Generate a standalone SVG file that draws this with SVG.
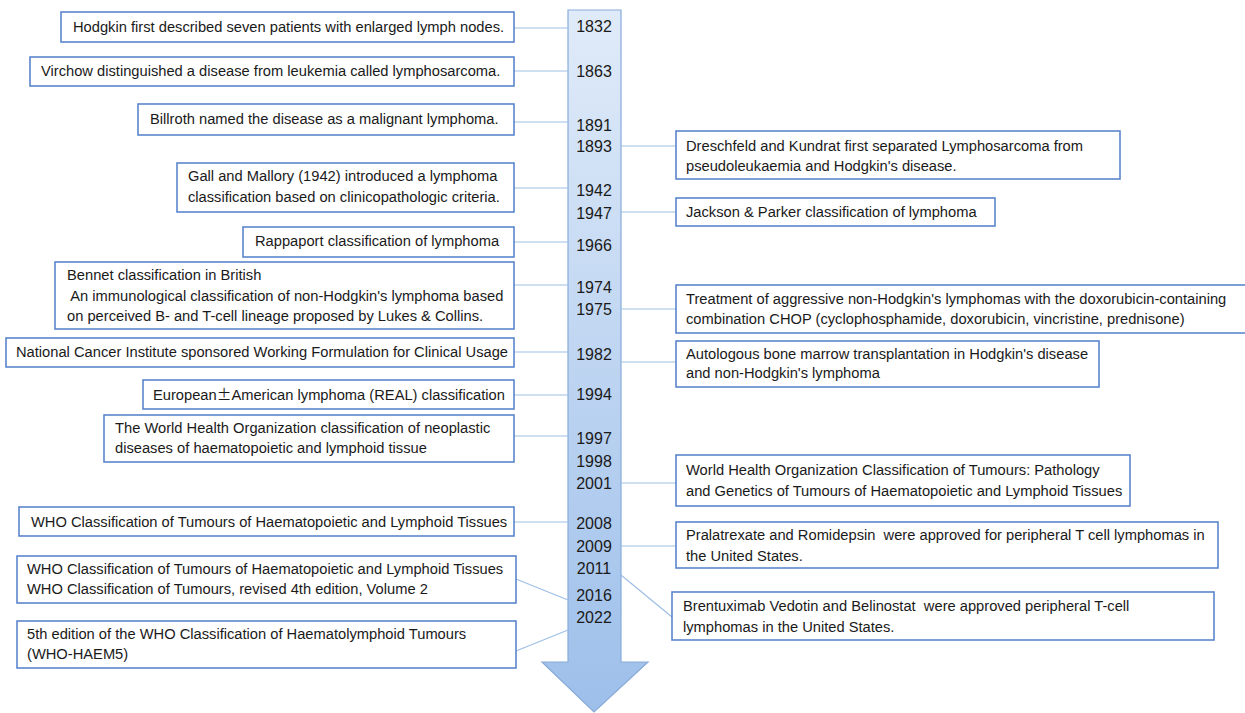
<svg xmlns="http://www.w3.org/2000/svg" width="1245" height="713" viewBox="0 0 1245 713">
<defs>
<linearGradient id="ag" x1="0" y1="0" x2="0" y2="1">
<stop offset="0" stop-color="#e0ebf9"/>
<stop offset="1" stop-color="#9dbfea"/>
</linearGradient>
</defs>
<style>
.box{fill:#fff;stroke:#5b86cc;stroke-width:1.6}
.t{font-family:"Liberation Sans",Arial,sans-serif;font-size:14.7px;fill:#1a1a1a}
.yr{font-family:"Liberation Sans",Arial,sans-serif;font-size:16px;fill:#1a1a1a;text-anchor:middle}
.c{stroke:#9dbfe6;stroke-width:1.2;fill:none}
</style>
<rect width="1245" height="713" fill="#fff"/>
<g id="timeline">
<path d="M568,10 L621,10 L621,662 L648,662 L594,712 L542,662 L568,662 Z" fill="url(#ag)" stroke="#88abd9" stroke-width="1.2"/>
<text class="yr" x="594" y="32">1832</text>
<text class="yr" x="594" y="77">1863</text>
<text class="yr" x="594" y="131">1891</text>
<text class="yr" x="594" y="152">1893</text>
<text class="yr" x="594" y="196">1942</text>
<text class="yr" x="594" y="219">1947</text>
<text class="yr" x="594" y="251">1966</text>
<text class="yr" x="594" y="293">1974</text>
<text class="yr" x="594" y="315">1975</text>
<text class="yr" x="594" y="360">1982</text>
<text class="yr" x="594" y="400">1994</text>
<text class="yr" x="594" y="444">1997</text>
<text class="yr" x="594" y="467">1998</text>
<text class="yr" x="594" y="489">2001</text>
<text class="yr" x="594" y="529">2008</text>
<text class="yr" x="594" y="552">2009</text>
<text class="yr" x="594" y="574">2011</text>
<text class="yr" x="594" y="601">2016</text>
<text class="yr" x="594" y="623">2022</text>
</g>
<g id="connectors">
<line class="c" x1="514" y1="28" x2="568" y2="28"/>
<line class="c" x1="514" y1="71" x2="568" y2="71"/>
<line class="c" x1="514" y1="122" x2="568" y2="122"/>
<line class="c" x1="514" y1="188" x2="568" y2="188"/>
<line class="c" x1="514" y1="242" x2="568" y2="242"/>
<line class="c" x1="514" y1="285" x2="568" y2="285"/>
<line class="c" x1="514" y1="352" x2="568" y2="352"/>
<line class="c" x1="514" y1="395" x2="568" y2="395"/>
<line class="c" x1="514" y1="436" x2="568" y2="436"/>
<line class="c" x1="514" y1="522" x2="568" y2="522"/>
<line class="c" x1="516" y1="579" x2="568" y2="600"/>
<line class="c" x1="516" y1="651" x2="568" y2="630"/>
<line class="c" x1="621" y1="146" x2="676" y2="146"/>
<line class="c" x1="621" y1="212" x2="676" y2="212"/>
<line class="c" x1="621" y1="309" x2="676" y2="309"/>
<line class="c" x1="621" y1="362" x2="676" y2="362"/>
<line class="c" x1="621" y1="483" x2="676" y2="483"/>
<line class="c" x1="621" y1="546" x2="676" y2="546"/>
<line class="c" x1="621" y1="575" x2="672" y2="617"/>
</g>
<g id="n1832"><rect class="box" x="61" y="12" width="453" height="30"/><text class="t" x="73" y="32">Hodgkin first described seven patients with enlarged lymph nodes.</text></g>
<g id="n1863"><rect class="box" x="30" y="57" width="484" height="29"/><text class="t" x="41" y="76">Virchow distinguished a disease from leukemia called lymphosarcoma.</text></g>
<g id="n1891"><rect class="box" x="138" y="104" width="376" height="31"/><text class="t" x="150" y="124">Billroth named the disease as a malignant lymphoma.</text></g>
<g id="n1942"><rect class="box" x="177" y="163" width="337" height="49"/><text class="t" x="188" y="181">Gall and Mallory (1942) introduced a lymphoma</text><text class="t" x="188" y="202">classification based on clinicopathologic criteria.</text></g>
<g id="n1966"><rect class="box" x="243" y="227" width="271" height="30"/><text class="t" x="255" y="246">Rappaport classification of lymphoma</text></g>
<g id="n1974"><rect class="box" x="55" y="262" width="459" height="67"/><text class="t" x="67" y="280">Bennet classification in British</text><text class="t" x="67" y="301" xml:space="preserve"> An immunological classification of non-Hodgkin's lymphoma based</text><text class="t" x="67" y="321">on perceived B- and T-cell lineage proposed by Lukes &amp; Collins.</text></g>
<g id="n1982"><rect class="box" x="6" y="338" width="508" height="29"/><text class="t" x="16" y="357">National Cancer Institute sponsored Working Formulation for Clinical Usage</text></g>
<g id="n1994"><rect class="box" x="143" y="380" width="371" height="29"/><text class="t" x="153" y="400">European<tspan font-family="'Noto Sans CJK SC',sans-serif">±</tspan>American lymphoma (REAL) classification</text></g>
<g id="n1997"><rect class="box" x="104" y="415" width="410" height="47"/><text class="t" x="115" y="433">The World Health Organization classification of neoplastic</text><text class="t" x="115" y="453">diseases of haematopoietic and lymphoid tissue</text></g>
<g id="n2008"><rect class="box" x="19" y="507" width="495" height="29"/><text class="t" x="31" y="527">WHO Classification of Tumours of Haematopoietic and Lymphoid Tissues</text></g>
<g id="n2016"><rect class="box" x="17" y="556" width="499" height="47"/><text class="t" x="27" y="574">WHO Classification of Tumours of Haematopoietic and Lymphoid Tissues</text><text class="t" x="27" y="594">WHO Classification of Tumours, revised 4th edition, Volume 2</text></g>
<g id="n2022"><rect class="box" x="17" y="621" width="499" height="47"/><text class="t" x="27" y="639">5th edition of the WHO Classification of Haematolymphoid Tumours</text><text class="t" x="27" y="659">(WHO-HAEM5)</text></g>
<g id="n1893"><rect class="box" x="676" y="131" width="444" height="48"/><text class="t" x="686" y="151">Dreschfeld and Kundrat first separated Lymphosarcoma from</text><text class="t" x="686" y="171">pseudoleukaemia and Hodgkin's disease.</text></g>
<g id="n1947"><rect class="box" x="676" y="198" width="319" height="28"/><text class="t" x="686" y="217">Jackson &amp; Parker classification of lymphoma</text></g>
<g id="n1975"><rect class="box" x="676" y="285" width="575" height="48"/><text class="t" x="686" y="304">Treatment of aggressive non-Hodgkin's lymphomas with the doxorubicin-containing</text><text class="t" x="686" y="324">combination CHOP (cyclophosphamide, doxorubicin, vincristine, prednisone)</text></g>
<g id="n1982r"><rect class="box" x="676" y="341" width="423" height="46"/><text class="t" x="686" y="359">Autologous bone marrow transplantation in Hodgkin's disease</text><text class="t" x="686" y="378">and non-Hodgkin's lymphoma</text></g>
<g id="n2001"><rect class="box" x="676" y="455" width="454" height="51"/><text class="t" x="686" y="475">World Health Organization Classification of Tumours: Pathology</text><text class="t" x="686" y="496">and Genetics of Tumours of Haematopoietic and Lymphoid Tissues</text></g>
<g id="n2009"><rect class="box" x="676" y="522" width="542" height="46"/><text class="t" x="686" y="540" xml:space="preserve">Pralatrexate and Romidepsin  were approved for peripheral T cell lymphomas in</text><text class="t" x="686" y="561">the United States.</text></g>
<g id="n2011"><rect class="box" x="672" y="592" width="542" height="48"/><text class="t" x="683" y="611" xml:space="preserve">Brentuximab Vedotin and Belinostat  were approved peripheral T-cell</text><text class="t" x="683" y="632">lymphomas in the United States.</text></g>
</svg>
